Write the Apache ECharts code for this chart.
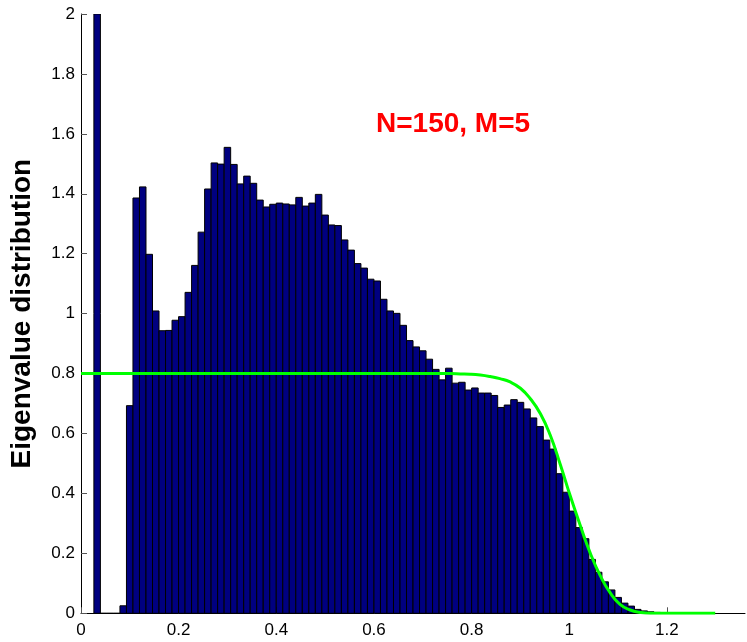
<!DOCTYPE html>
<html>
<head>
<meta charset="utf-8">
<script src="https://cdn.jsdelivr.net/npm/echarts@6/dist/echarts.min.js"></script>
<style>
  html, body { margin: 0; padding: 0; background: #fff; }
  #chart { width: 747px; height: 642px; }
</style>
</head>
<body>
<div id="chart"></div>
<script>
// histogram bins: first left edge and width (data units)
const binStart = 0.0264
const binWidth = 0.01334

// bar heights, one per bin
const binHeights = [
  2.0, 0, 0, 0, 0.025, 0.693,
  1.386, 1.423, 1.198, 1.009, 0.943, 0.944, 0.978, 0.990, 1.071, 1.161,
  1.272, 1.416, 1.503, 1.499, 1.555, 1.498, 1.433, 1.459, 1.435, 1.379,
  1.356, 1.365, 1.369, 1.366, 1.363, 1.388, 1.359, 1.369, 1.398, 1.329,
  1.296, 1.294, 1.246, 1.212, 1.167, 1.152, 1.115, 1.109, 1.048, 1.009,
  1.001, 0.961, 0.910, 0.889, 0.876, 0.848, 0.814, 0.779, 0.818, 0.768,
  0.771, 0.745, 0.752, 0.735, 0.735, 0.727, 0.687, 0.695, 0.713, 0.704,
  0.682, 0.652, 0.623, 0.578, 0.548, 0.466, 0.404, 0.341, 0.286, 0.249,
  0.180, 0.137, 0.105, 0.078, 0.053, 0.034, 0.024, 0.013, 0.008, 0.005,
  0.003, 0.002, 0.001
]

// green theoretical curve
const curveX = [0, 0.2, 0.4, 0.6, 0.695, 0.716, 0.736, 0.757, 0.777, 0.797, 0.818, 0.838,
  0.858, 0.879, 0.900, 0.920, 0.941, 0.961, 0.982, 1.002, 1.023, 1.043, 1.064, 1.084,
  1.104, 1.125, 1.145, 1.166, 1.186, 1.299]
const curveY = [0.80, 0.80, 0.80, 0.80, 0.80, 0.80, 0.80, 0.80, 0.799, 0.798, 0.795, 0.790,
  0.783, 0.772, 0.751, 0.717, 0.666, 0.595, 0.495, 0.392, 0.291, 0.201, 0.124, 0.068,
  0.030, 0.011, 0.003, 0.0, 0.0, 0.0]

const xTicks = [0, 0.2, 0.4, 0.6, 0.8, 1, 1.2]

const chart = echarts.init(document.getElementById('chart'))

const barData = binHeights.map((h, i) => {
  const x0 = binStart + i * binWidth
  return [x0, x0 + binWidth, h]
})
const lineData = curveX.map((x, i) => [x, curveY[i]])

const labelFont = {
  fontFamily: 'Liberation Sans, Arial, sans-serif',
  fontSize: 17,
  color: '#000'
}

const option = {
  animation: false,
  grid: { left: 80.7, right: 2, top: 14, bottom: 28.7, containLabel: false },
  xAxis: {
    type: 'value',
    min: 0,
    max: 1.36,
    interval: 0.2,
    axisLine: { show: true, lineStyle: { color: '#000', width: 1 } },
    axisTick: { show: true, inside: true, length: 6, lineStyle: { color: '#555' } },
    splitLine: { show: false },
    axisLabel: Object.assign({
      margin: 9,
      showMaxLabel: false,
      formatter: v => xTicks.some(t => Math.abs(t - v) < 1e-6) ? String(+v.toFixed(1)) : ''
    }, labelFont)
  },
  yAxis: {
    type: 'value',
    min: 0,
    max: 2,
    interval: 0.2,
    name: 'Eigenvalue distribution',
    nameLocation: 'middle',
    nameRotate: 90,
    nameGap: 45,
    nameTextStyle: {
      fontFamily: 'Liberation Sans, Arial, sans-serif',
      fontSize: 28,
      fontWeight: 'bold',
      color: '#000'
    },
    axisLine: { show: true, lineStyle: { color: '#000', width: 1 } },
    axisTick: { show: true, inside: true, length: 6, lineStyle: { color: '#555' } },
    splitLine: { show: false },
    axisLabel: Object.assign({
      margin: 6,
      formatter: v => String(+v.toFixed(1))
    }, labelFont)
  },
  graphic: [{
    type: 'text',
    left: 376,
    top: 110,
    style: {
      text: 'N=150, M=5',
      fill: '#ff0000',
      font: 'bold 28px "Liberation Sans", Arial, sans-serif'
    }
  }],
  series: [
    {
      type: 'custom',
      clip: true,
      data: barData,
      encode: { x: [0, 1], y: 2 },
      renderItem: (params, api) => {
        const p0 = api.coord([api.value(0), api.value(2)])
        const p1 = api.coord([api.value(1), 0])
        return {
          type: 'rect',
          shape: { x: p0[0], y: p0[1], width: p1[0] - p0[0], height: p1[1] - p0[1] },
          style: { fill: '#000080', stroke: '#000', lineWidth: 1 }
        }
      },
      z: 2
    },
    {
      type: 'line',
      data: lineData,
      smooth: 0.5,
      showSymbol: false,
      lineStyle: { color: '#00ff00', width: 3 },
      z: 5
    }
  ]
}

chart.setOption(option)
</script>
</body>
</html>
